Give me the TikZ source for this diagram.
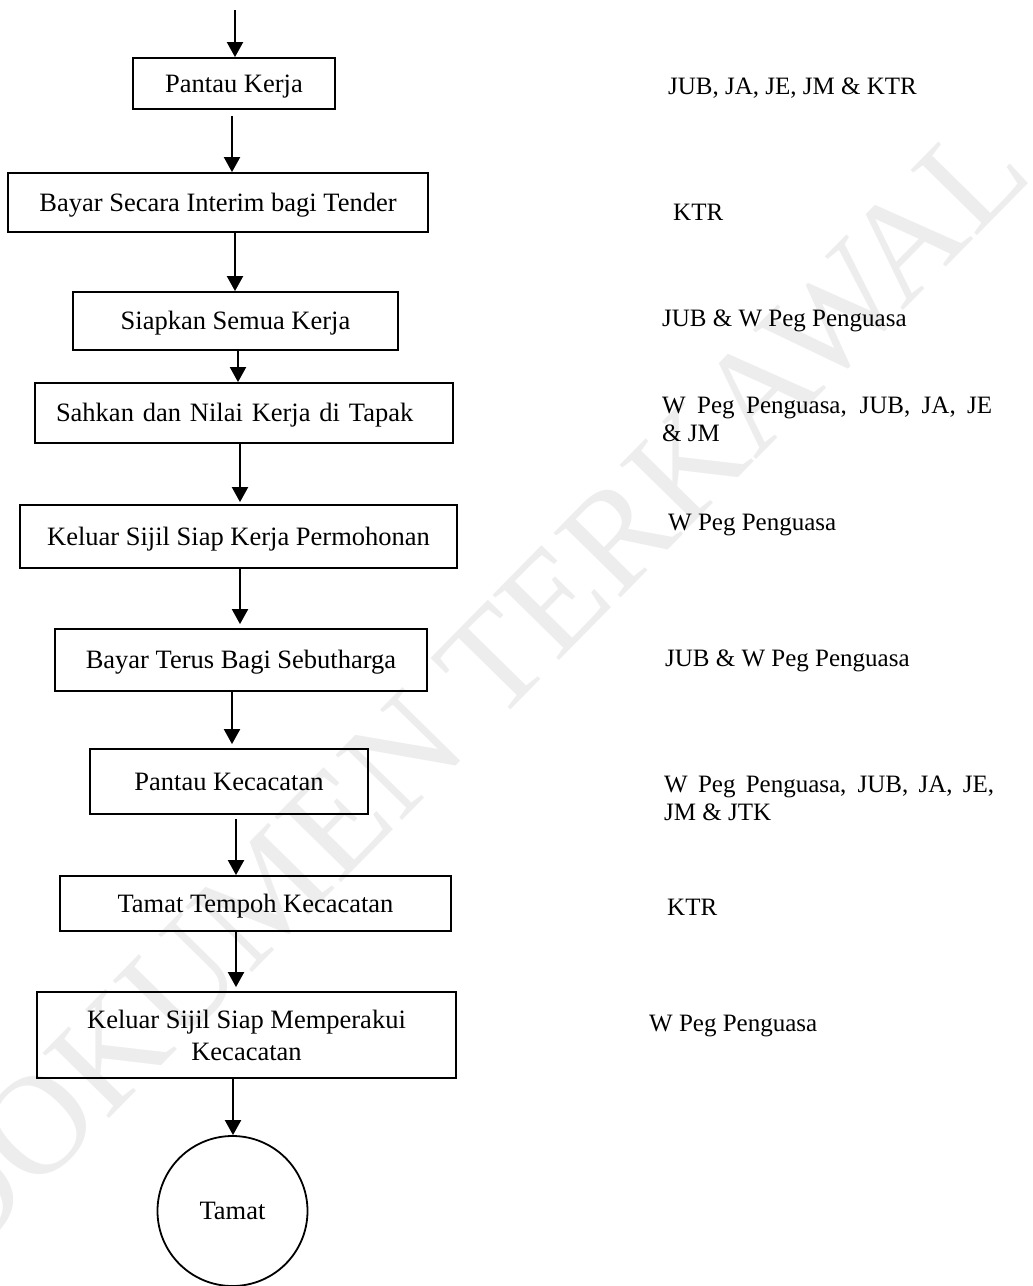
\documentclass[tikz,border=0pt]{standalone}
\usepackage{fontspec}
\setmainfont{Liberation Serif}
\usetikzlibrary{arrows.meta}
\begin{document}
\begin{tikzpicture}[x=1pt,y=-1pt,
  boxbase/.style={draw, line width=1.8pt, inner sep=0pt, font=\fontsize{26.5}{32}\selectfont},
  box/.style={boxbase, text height=17.5pt, text depth=0pt},
  lbl/.style={inner sep=0pt, anchor=base west, font=\fontsize{25}{28.5}\selectfont},
  arr/.style={line width=2pt, -{Triangle[length=15pt,width=16pt]}},
  wmark/.style={rotate=45.5, text=black!7, inner sep=0pt, font=\fontsize{142}{142}\selectfont}]
\fill[white] (0,0) rectangle (1033,1286);
\useasboundingbox (0,0) rectangle (1033,1286);
% watermark
\node[wmark] (wm) at (466,690) {DOKUMEN TERKAWAL};
% flow boxes
\node[box, minimum width=202pt, minimum height=51pt] (b1) at (234,83.5) {Pantau Kerja};
\node[box, minimum width=420pt, minimum height=59pt] (b2) at (218,202.5) {Bayar Secara Interim bagi Tender};
\node[box, minimum width=325pt, minimum height=58pt] (b3) at (235.5,321) {Siapkan Semua Kerja};
\node[box, minimum width=418pt, minimum height=60pt, text width=376pt, inner xsep=21pt, align=left] (b4) at (244,413) {Sahkan dan Nilai Kerja di Tapak};
\node[box, minimum width=437pt, minimum height=63pt] (b5) at (238.5,536.5) {Keluar Sijil Siap Kerja Permohonan};
\node[box, minimum width=372pt, minimum height=62pt] (b6) at (241,660) {Bayar Terus Bagi Sebutharga};
\node[box, minimum width=278pt, minimum height=65pt] (b7) at (229,781.5) {Pantau Kecacatan};
\node[box, minimum width=391pt, minimum height=55pt] (b8) at (255.5,903.5) {Tamat Tempoh Kecacatan};
\node[boxbase, minimum width=419pt, minimum height=86pt, align=center] (b9) at (246.5,1035) {Keluar Sijil Siap Memperakui\\Kecacatan};
\node[box, circle, minimum size=150pt] (end) at (232.5,1211) {Tamat};
% connectors
\coordinate (start) at (235,10);
\draw[arr] (start) -- (235,0 |- b1.north);
\draw[arr, shorten <=6pt] (232,0 |- b1.south) -- (232,0 |- b2.north);
\draw[arr] (235,0 |- b2.south) -- (235,0 |- b3.north);
\draw[arr] (238,0 |- b3.south) -- (238,0 |- b4.north);
\draw[arr, shorten >=2pt] (240,0 |- b4.south) -- (240,0 |- b5.north);
\draw[arr, shorten >=4pt] (240,0 |- b5.south) -- (240,0 |- b6.north);
\draw[arr, shorten >=4pt] (232,0 |- b6.south) -- (232,0 |- b7.north);
\draw[arr, shorten <=4pt] (236,0 |- b7.south) -- (236,0 |- b8.north);
\draw[arr, shorten >=4pt] (236,0 |- b8.south) -- (236,0 |- b9.north);
\draw[arr] (233,0 |- b9.south) -- (233,0 |- end.north);
% responsibility labels
\node[lbl] (r1) at (668,94) {JUB, JA, JE, JM \& KTR};
\node[lbl] (r2) at (673,220) {KTR};
\node[lbl] (r3) at (662,326) {JUB \& W Peg Penguasa};
\node[lbl] (r4) at (662,413) {\parbox[t]{330pt}{\makebox[330pt][s]{W Peg Penguasa, JUB, JA, JE}\\\& JM}};
\node[lbl] (r5) at (668,530) {W Peg Penguasa};
\node[lbl] (r6) at (665,666) {JUB \& W Peg Penguasa};
\node[lbl] (r7) at (664,792) {\parbox[t]{330pt}{\makebox[330pt][s]{W Peg Penguasa, JUB, JA, JE,}\\JM \& JTK}};
\node[lbl] (r8) at (667,915) {KTR};
\node[lbl] (r9) at (649,1031) {W Peg Penguasa};
\end{tikzpicture}
\end{document}
